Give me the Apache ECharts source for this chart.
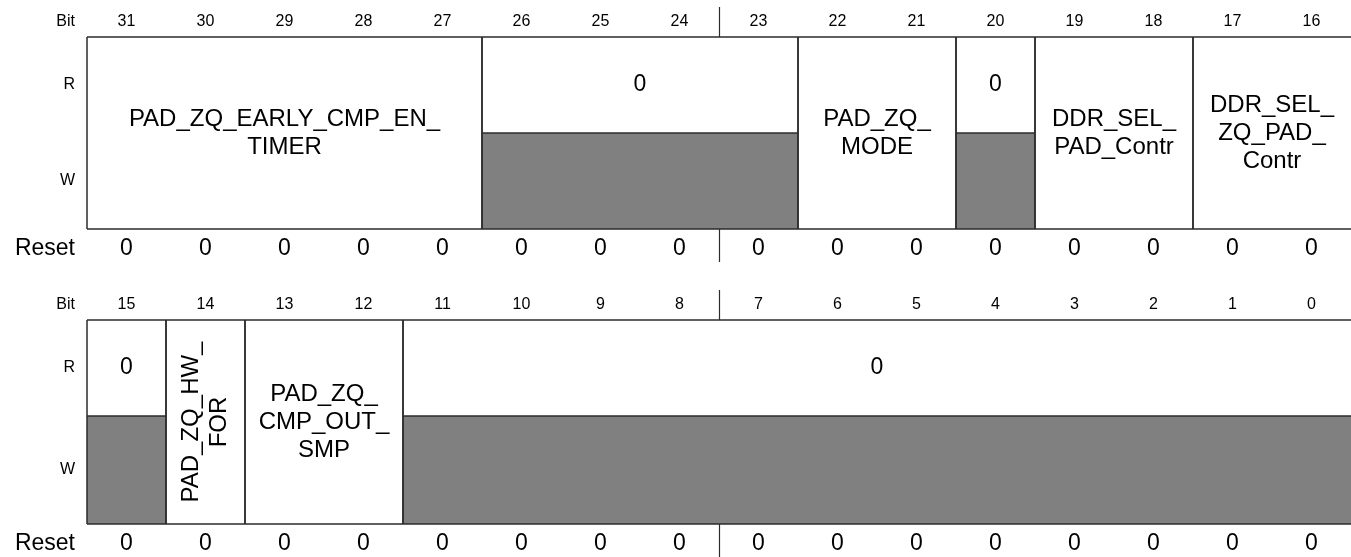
<!DOCTYPE html>
<html>
<head>
<meta charset="utf-8">
<script src="https://cdn.jsdelivr.net/npm/echarts/dist/echarts.min.js"></script>
<style>
html,body{margin:0;padding:0;background:#fff;}
#chart{width:1351px;height:557px;}
</style>
</head>
<body>
<div id="chart"></div>
<script>
// ---- data ----
const bitsHigh = ['31','30','29','28','27','26','25','24','23','22','21','20','19','18','17','16'];
const bitsLow  = ['15','14','13','12','11','10','9','8','7','6','5','4','3','2','1','0'];
const resetHigh = [0,0,0,0,0,0,0,0,0,0,0,0,0,0,0,0];
const resetLow  = [0,0,0,0,0,0,0,0,0,0,0,0,0,0,0,0];
const fieldNames = [
  'PAD_ZQ_EARLY_CMP_EN_\nTIMER', '0', 'PAD_ZQ_\nMODE', '0', 'DDR_SEL_\nPAD_Contr', 'DDR_SEL_\nZQ_PAD_\nContr',
  '0', 'PAD_ZQ_HW_\nFOR', 'PAD_ZQ_\nCMP_OUT_\nSMP', '0'
];
const fieldMsb = [31, 26, 22, 20, 19, 17, 15, 14, 13, 11];
const fieldLsb = [27, 23, 21, 20, 18, 16, 15, 14, 12, 0];
const fieldAccess = ['RW', 'R', 'RW', 'R', 'RW', 'RW', 'R', 'RW', 'RW', 'R'];
const fieldVertical = [false, false, false, false, false, false, false, true, false, false];
const rowLabels = ['Bit', 'R', 'W', 'Reset'];
const halfDividerAfter = 8; // byte boundary marker (between 24/23 and 8/7)

// ---- build ----
const FONT = "'Liberation Sans', Arial, Helvetica, sans-serif";
const LINE = '#2b2b2b';
const GREY = '#808080';
const LW = 1.5;

function rowData(topBit) {
  const out = [];
  for (let i = 0; i < fieldNames.length; i++) {
    if (fieldMsb[i] <= topBit && fieldLsb[i] >= topBit - 15) {
      out.push([topBit - fieldMsb[i], topBit - fieldLsb[i], i]);
    }
  }
  return out;
}

function seg(x1, y1, x2, y2) {
  return {type: 'line', shape: {x1: x1, y1: y1, x2: x2, y2: y2}, style: {stroke: LINE, lineWidth: LW}, z2: 10};
}

function renderField(params, api) {
  const s = api.value(0), e = api.value(1), idx = api.value(2);
  const cs = params.coordSys;
  const bw = api.size([1, 0])[0];
  const x0 = api.coord([s, 0])[0] - bw / 2;
  const x1 = api.coord([e, 0])[0] + bw / 2;
  const yTop = cs.y, yBot = cs.y + cs.height;
  const ySplit = api.coord([s, 0])[1];
  const last = x1 >= cs.x + cs.width - 0.5;
  const children = [{
    type: 'rect',
    shape: {x: x0, y: yTop, width: x1 - x0, height: yBot - yTop},
    style: {fill: '#fff'}
  }];
  if (fieldAccess[idx] === 'R') {
    children.push({
      type: 'rect',
      shape: {x: x0, y: ySplit, width: x1 - x0, height: yBot - ySplit},
      style: {fill: GREY}
    });
    children.push(seg(x0, ySplit, x1, ySplit));
    children.push({
      type: 'text', x: (x0 + x1) / 2, y: (yTop + ySplit) / 2,
      style: {text: fieldNames[idx], fill: '#000', fontSize: 23, fontFamily: FONT,
              align: 'center', verticalAlign: 'middle'}
    });
  } else {
    children.push({
      type: 'text', x: (x0 + x1) / 2, y: (yTop + yBot) / 2,
      rotation: fieldVertical[idx] ? Math.PI / 2 : 0,
      style: {text: fieldNames[idx], fill: '#000', fontSize: 24, fontFamily: FONT,
              align: 'center', verticalAlign: 'middle', lineHeight: 28}
    });
  }
  children.push(seg(x0, yTop, x1, yTop));
  children.push(seg(x0, yBot, x1, yBot));
  children.push(seg(x0, yTop, x0, yBot));
  if (!last) children.push(seg(x1, yTop, x1, yBot));
  return {type: 'group', children: children};
}

function renderDivider(params, api) {
  const cs = params.coordSys;
  const bw = api.size([1, 0])[0];
  const x = Math.round(api.coord([api.value(0), 0])[0] - bw / 2) + 0.5;
  const yTop = cs.y, yBot = cs.y + cs.height;
  return {type: 'group', children: [
    {type: 'line', shape: {x1: x, y1: yTop - 30, x2: x, y2: yTop}, style: {stroke: LINE, lineWidth: 1.2}},
    {type: 'line', shape: {x1: x, y1: yBot, x2: x, y2: yBot + 33}, style: {stroke: LINE, lineWidth: 1.2}}
  ]};
}

function renderRowLabel(params, api) {
  const cs = params.coordSys;
  const k = api.value(0);
  const yTop = cs.y, yBot = cs.y + cs.height;
  const ySplit = api.coord([0, 0])[1];
  const ys = [yTop - 15.5, (yTop + ySplit) / 2, (ySplit + yBot) / 2, yBot + 20];
  return {
    type: 'text', x: cs.x - 12, y: ys[k],
    style: {text: rowLabels[k], fill: '#000', fontSize: k === 3 ? 23 : 16, fontFamily: FONT,
            align: 'right', verticalAlign: 'middle'}
  };
}

const grids = [
  {left: 87, right: 0, top: 37, height: 192},
  {left: 87, right: 0, top: 320, height: 204}
];

function topAxis(g, data) {
  return {
    type: 'category', gridIndex: g, data: data, position: 'top', boundaryGap: true,
    axisLine: {show: false}, axisTick: {show: false}, splitLine: {show: false},
    axisLabel: {color: '#000', fontSize: 16, fontFamily: FONT, margin: 15, verticalAlign: 'middle', interval: 0}
  };
}
function resetAxis(g, data) {
  return {
    type: 'category', gridIndex: g, data: data.map(String), position: 'bottom', boundaryGap: true,
    axisLine: {show: false}, axisTick: {show: false}, splitLine: {show: false},
    axisLabel: {color: '#000', fontSize: 23, fontFamily: FONT, margin: 20, verticalAlign: 'middle', interval: 0}
  };
}

const option = {
  animation: false,
  backgroundColor: '#fff',
  grid: grids,
  xAxis: [topAxis(0, bitsHigh), topAxis(1, bitsLow), resetAxis(0, resetHigh), resetAxis(1, resetLow)],
  yAxis: [
    {type: 'value', gridIndex: 0, min: -1, max: 1, show: false},
    {type: 'value', gridIndex: 1, min: -1.125, max: 1, show: false}
  ],
  series: [
    {type: 'custom', xAxisIndex: 0, yAxisIndex: 0, renderItem: renderField, data: rowData(31), clip: false},
    {type: 'custom', xAxisIndex: 1, yAxisIndex: 1, renderItem: renderField, data: rowData(15), clip: false},
    {type: 'custom', xAxisIndex: 0, yAxisIndex: 0, renderItem: renderDivider, data: [[halfDividerAfter]], clip: false, z: 5},
    {type: 'custom', xAxisIndex: 1, yAxisIndex: 1, renderItem: renderDivider, data: [[halfDividerAfter]], clip: false, z: 5},
    {type: 'custom', xAxisIndex: 0, yAxisIndex: 0, renderItem: renderRowLabel, data: [[0],[1],[2],[3]], clip: false},
    {type: 'custom', xAxisIndex: 1, yAxisIndex: 1, renderItem: renderRowLabel, data: [[0],[1],[2],[3]], clip: false}
  ]
};

const chart = echarts.init(document.getElementById('chart'), null, {renderer: 'canvas'});
chart.setOption(option);
</script>
</body>
</html>
